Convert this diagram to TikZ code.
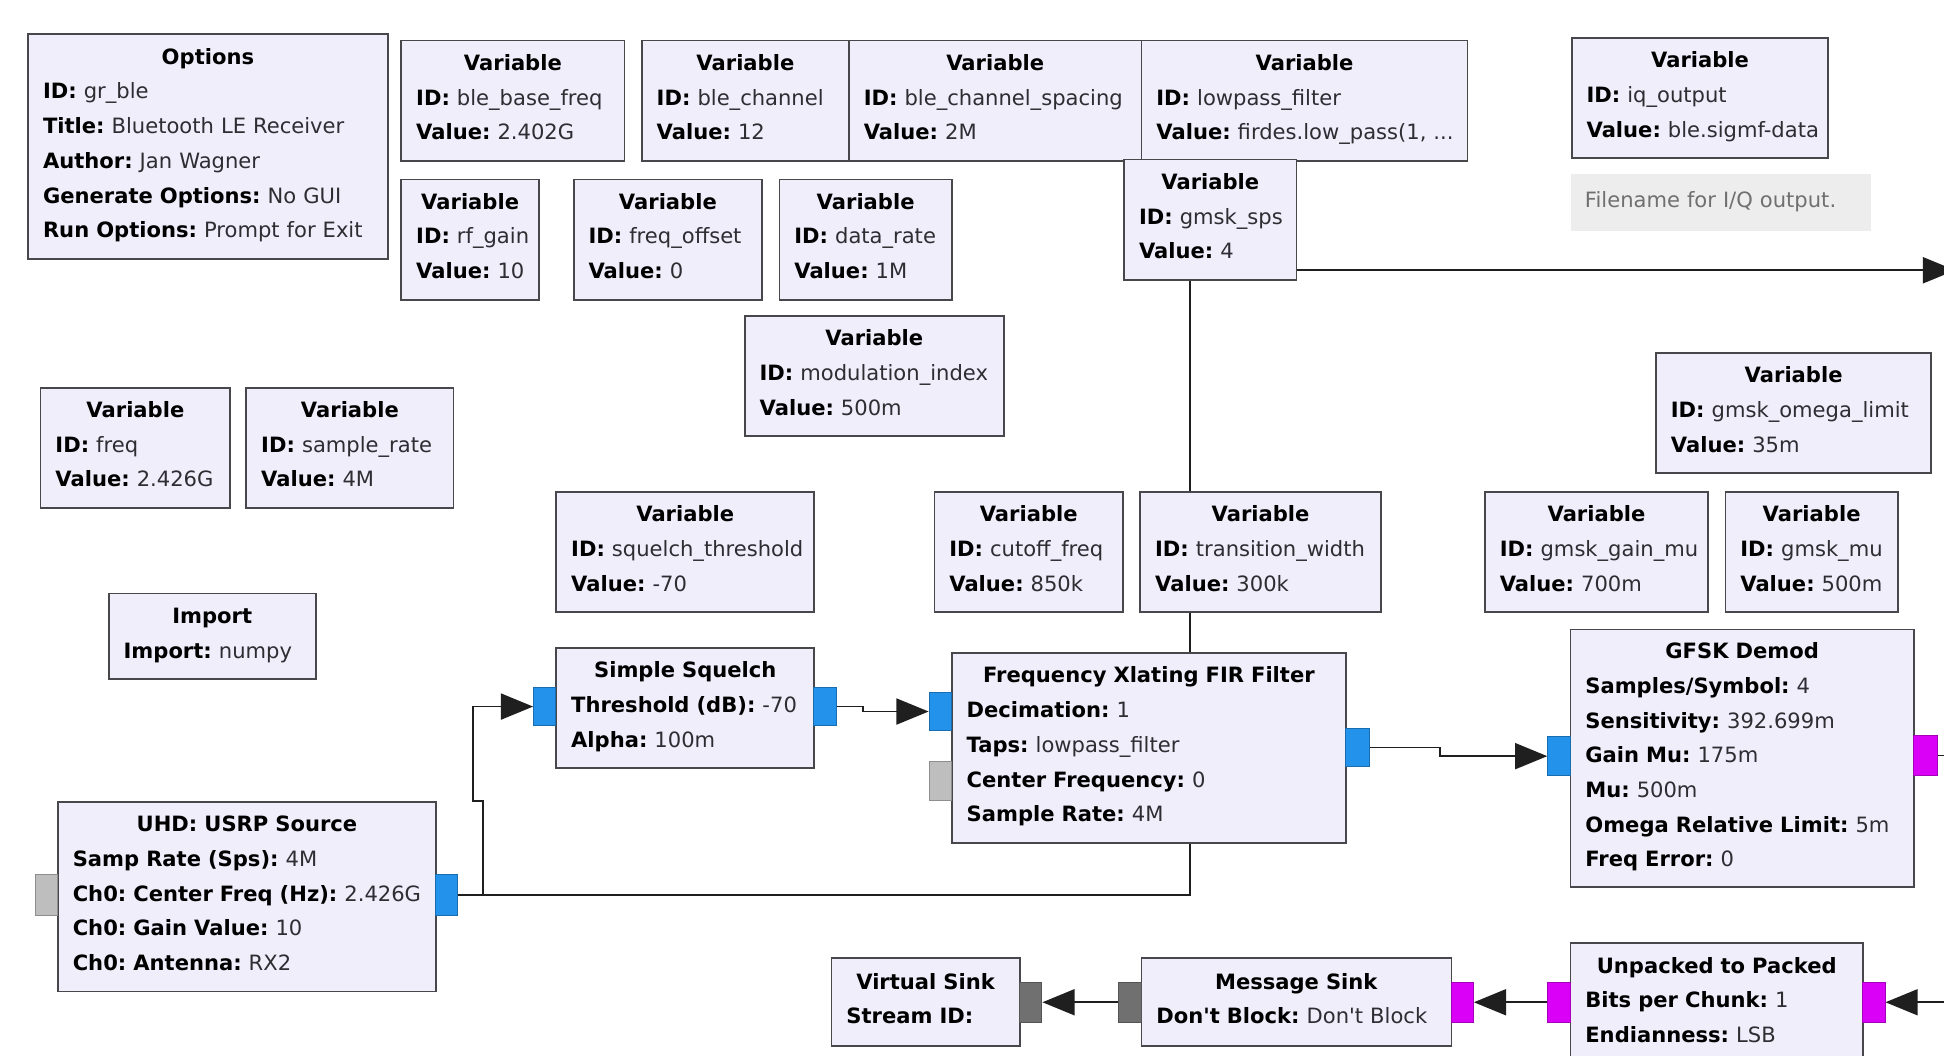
\documentclass[tikz,border=0pt]{standalone}
\usepackage{fontspec}
\setmainfont{DejaVu Sans}
\usetikzlibrary{arrows.meta}

\definecolor{blkfill}{RGB}{240,238,251}
\definecolor{blkline}{RGB}{72,72,76}
\definecolor{valtext}{RGB}{45,45,50}
\definecolor{portblue}{RGB}{34,146,234}
\definecolor{portmag}{RGB}{218,0,248}
\definecolor{portgray}{RGB}{190,190,190}
\definecolor{portdark}{RGB}{112,112,112}
\definecolor{notefill}{RGB}{237,237,237}
\definecolor{notetext}{RGB}{112,112,112}

\pgfdeclarelayer{paper}
\pgfdeclarelayer{wires}
\pgfsetlayers{paper,wires,main}

\newcommand\grcfont{\fontsize{8.5pt}{14pt}\selectfont\frenchspacing}
\newcommand\grcstrut{\rule[-5.2pt]{0pt}{14pt}}
\newcommand\ttl[1]{\makebox[\linewidth]{\grcstrut\textbf{#1}}}
\newcommand\kv[2]{\mbox{\grcstrut\textbf{#1:} {\color{valtext}#2}}}

% block: name, x1, y1, x2, y2, contents (coordinates in px, y downwards)
\newcommand\grcblock[6]{%
  \pgfmathsetlengthmacro\grcbw{(#4-#2)*0.5pt}%
  \pgfmathsetlengthmacro\grcbh{(#5-#3)*0.5pt}%
  \pgfmathsetlengthmacro\grctw{(#4-#2-24)*0.5pt}%
  \node[grcblk, minimum width=\grcbw, minimum height=\grcbh, text width=\grctw] (#1) at (#2,#3) {#6};}
% port: name, x1, y1, x2, y2, colour
\newcommand\grcport[6]{%
  \pgfmathsetlengthmacro\grcbw{(#4-#2)*0.5pt}%
  \pgfmathsetlengthmacro\grcbh{(#5-#3)*0.5pt}%
  \node[grcport, fill=#6, draw=#6!75!black, minimum width=\grcbw, minimum height=\grcbh] (#1) at (#2,#3) {};}
\newcommand\varblk[6]{\grcblock{#1}{#2}{#3}{#4}{#5}{\ttl{Variable}\\\kv{ID}{#6}\\\kv{Value}{\varval}}}

\tikzset{
  grcblk/.style={draw=blkline, fill=blkfill, line width=0.7pt, anchor=north west,
    inner xsep=6pt, inner ysep=0pt, align=left, font=\grcfont, text=black},
  grcport/.style={anchor=north west, inner sep=0pt, line width=0.4pt},
  wire/.style={draw=black!88, line width=0.75pt},
  wirearrow/.style={-{Triangle[length=13pt,width=10.5pt]}},
}

\begin{document}
\begin{tikzpicture}[x=0.5pt, y=-0.5pt]
\useasboundingbox (0,0) rectangle (1568,851);
\begin{pgfonlayer}{paper}
  \fill[white] (0,0) rectangle (1568,851);
\end{pgfonlayer}

% options and variables
\grcblock{opts}{22}{27}{312}{208}{\ttl{Options}\\\kv{ID}{gr\_ble}\\\kv{Title}{Bluetooth LE Receiver}\\\kv{Author}{Jan Wagner}\\\kv{Generate Options}{No GUI}\\\kv{Run Options}{Prompt for Exit}}
\def\varval{2.402G}\varblk{vbase}{323}{32}{503}{129}{ble\_base\_freq}
\def\varval{12}\varblk{vchan}{517}{32}{684}{129}{ble\_channel}
\def\varval{2M}\varblk{vspacing}{684}{32}{920}{129}{ble\_channel\_spacing}
\def\varval{firdes.low\_pass(1, ...}\varblk{vlpf}{920}{32}{1183}{129}{lowpass\_filter}
\def\varval{ble.sigmf-data}\varblk{viq}{1267}{30}{1474}{127}{iq\_output}
\def\varval{10}\varblk{vrfgain}{323}{144}{434}{241}{rf\_gain}
\def\varval{0}\varblk{vfoff}{462}{144}{614}{241}{freq\_offset}
\def\varval{1M}\varblk{vdrate}{628}{144}{767}{241}{data\_rate}
\def\varval{4}\varblk{vsps}{906}{128}{1045}{225}{gmsk\_sps}
\def\varval{500m}\varblk{vmod}{600}{254}{809}{351}{modulation\_index}
\def\varval{2.426G}\varblk{vfreq}{32}{312}{185}{409}{freq}
\def\varval{4M}\varblk{vsrate}{198}{312}{365}{409}{sample\_rate}
\def\varval{35m}\varblk{vomega}{1335}{284}{1557}{381}{gmsk\_omega\_limit}
\def\varval{-70}\varblk{vsq}{448}{396}{656}{493}{squelch\_threshold}
\def\varval{850k}\varblk{vcut}{753}{396}{905}{493}{cutoff\_freq}
\def\varval{300k}\varblk{vtw}{919}{396}{1113}{493}{transition\_width}
\def\varval{700m}\varblk{vgmu}{1197}{396}{1377}{493}{gmsk\_gain\_mu}
\def\varval{500m}\varblk{vmu}{1391}{396}{1530}{493}{gmsk\_mu}
\grcblock{imp}{87}{478}{254}{547}{\ttl{Import}\\\kv{Import}{numpy}}

% comment
\node[anchor=north west, fill=notefill, minimum width=121pt, minimum height=23pt,
  text width=110pt, inner xsep=5.5pt, inner ysep=0pt, align=left, font=\grcfont,
  text=notetext] (iqnote) at (1267,140) {\mbox{\grcstrut Filename for I/Q output.}};

% signal processing blocks
\grcblock{squelch}{448}{522}{656}{619}{\ttl{Simple Squelch}\\\kv{Threshold (dB)}{-70}\\\kv{Alpha}{100m}}
\grcblock{xlate}{767}{526}{1085}{679}{\ttl{Frequency Xlating FIR Filter}\\\kv{Decimation}{1}\\\kv{Taps}{lowpass\_filter}\\\kv{Center Frequency}{0}\\\kv{Sample Rate}{4M}}
\grcblock{gfsk}{1266}{507}{1543}{715}{\ttl{GFSK Demod}\\\kv{Samples/Symbol}{4}\\\kv{Sensitivity}{392.699m}\\\kv{Gain Mu}{175m}\\\kv{Mu}{500m}\\\kv{Omega Relative Limit}{5m}\\\kv{Freq Error}{0}}
\grcblock{usrp}{46}{646}{351}{799}{\ttl{UHD: USRP Source}\\\kv{Samp Rate (Sps)}{4M}\\\kv{Ch0: Center Freq (Hz)}{2.426G}\\\kv{Ch0: Gain Value}{10}\\\kv{Ch0: Antenna}{RX2}}
\grcblock{vsink}{670}{772}{822}{843}{\ttl{Virtual Sink}\\\kv{Stream ID}{}}
\grcblock{msink}{920}{772}{1170}{843}{\ttl{Message Sink}\\\kv{Don\textquotesingle t Block}{Don\textquotesingle t Block}}
\grcblock{unpack}{1266}{760}{1502}{857}{\ttl{Unpacked to Packed}\\\kv{Bits per Chunk}{1}\\\kv{Endianness}{LSB}}

% ports
\grcport{usrp_in}{28}{705}{46}{738}{portgray}
\grcport{usrp_out}{351}{705}{369}{738}{portblue}
\grcport{sq_in}{430}{554}{448}{585}{portblue}
\grcport{sq_out}{656}{554}{674}{585}{portblue}
\grcport{fx_in}{749}{558}{767}{589}{portblue}
\grcport{fx_freq}{749}{614}{767}{645}{portgray}
\grcport{fx_out}{1085}{587}{1104}{618}{portblue}
\grcport{gfsk_in}{1248}{594}{1266}{625}{portblue}
\grcport{gfsk_out}{1543}{593}{1562}{625}{portmag}
\grcport{up_out}{1248}{792}{1266}{824}{portmag}
\grcport{up_in}{1502}{792}{1520}{824}{portmag}
\grcport{ms_in}{1170}{792}{1188}{824}{portmag}
\grcport{ms_msg}{902}{792}{920}{824}{portdark}
\grcport{vs_in}{822}{792}{840}{824}{portdark}

% loose ends leaving the canvas
\coordinate (edgeTop) at (1577,218);
\coordinate (edgeDemod) at (1575,609);
\coordinate (edgeUnpack) at (1575,808);

% connections
\begin{pgfonlayer}{wires}
  \draw[wire, wirearrow] (usrp_out.east) -| (960,218) -- (edgeTop);
  \draw[wire, wirearrow] (usrp_out.east) -- ++(20,0) -- ++(0,-76) -- ++(-8,0) |- (sq_in.west);
  \draw[wire, wirearrow] (sq_out.east) -- ++(21,0) |- (fx_in.west);
  \draw[wire, wirearrow] (fx_out.east) -- ++(57,0) |- (gfsk_in.west);
  \draw[wire] (gfsk_out.east) -- (edgeDemod |- gfsk_out.east);
  \draw[wire, wirearrow] (edgeUnpack |- up_in.east) -- (up_in.east);
  \draw[wire, wirearrow] (up_out.west) -- (ms_in.east);
  \draw[wire, wirearrow] (ms_msg.west) -- (vs_in.east);
\end{pgfonlayer}
\end{tikzpicture}
\end{document}
